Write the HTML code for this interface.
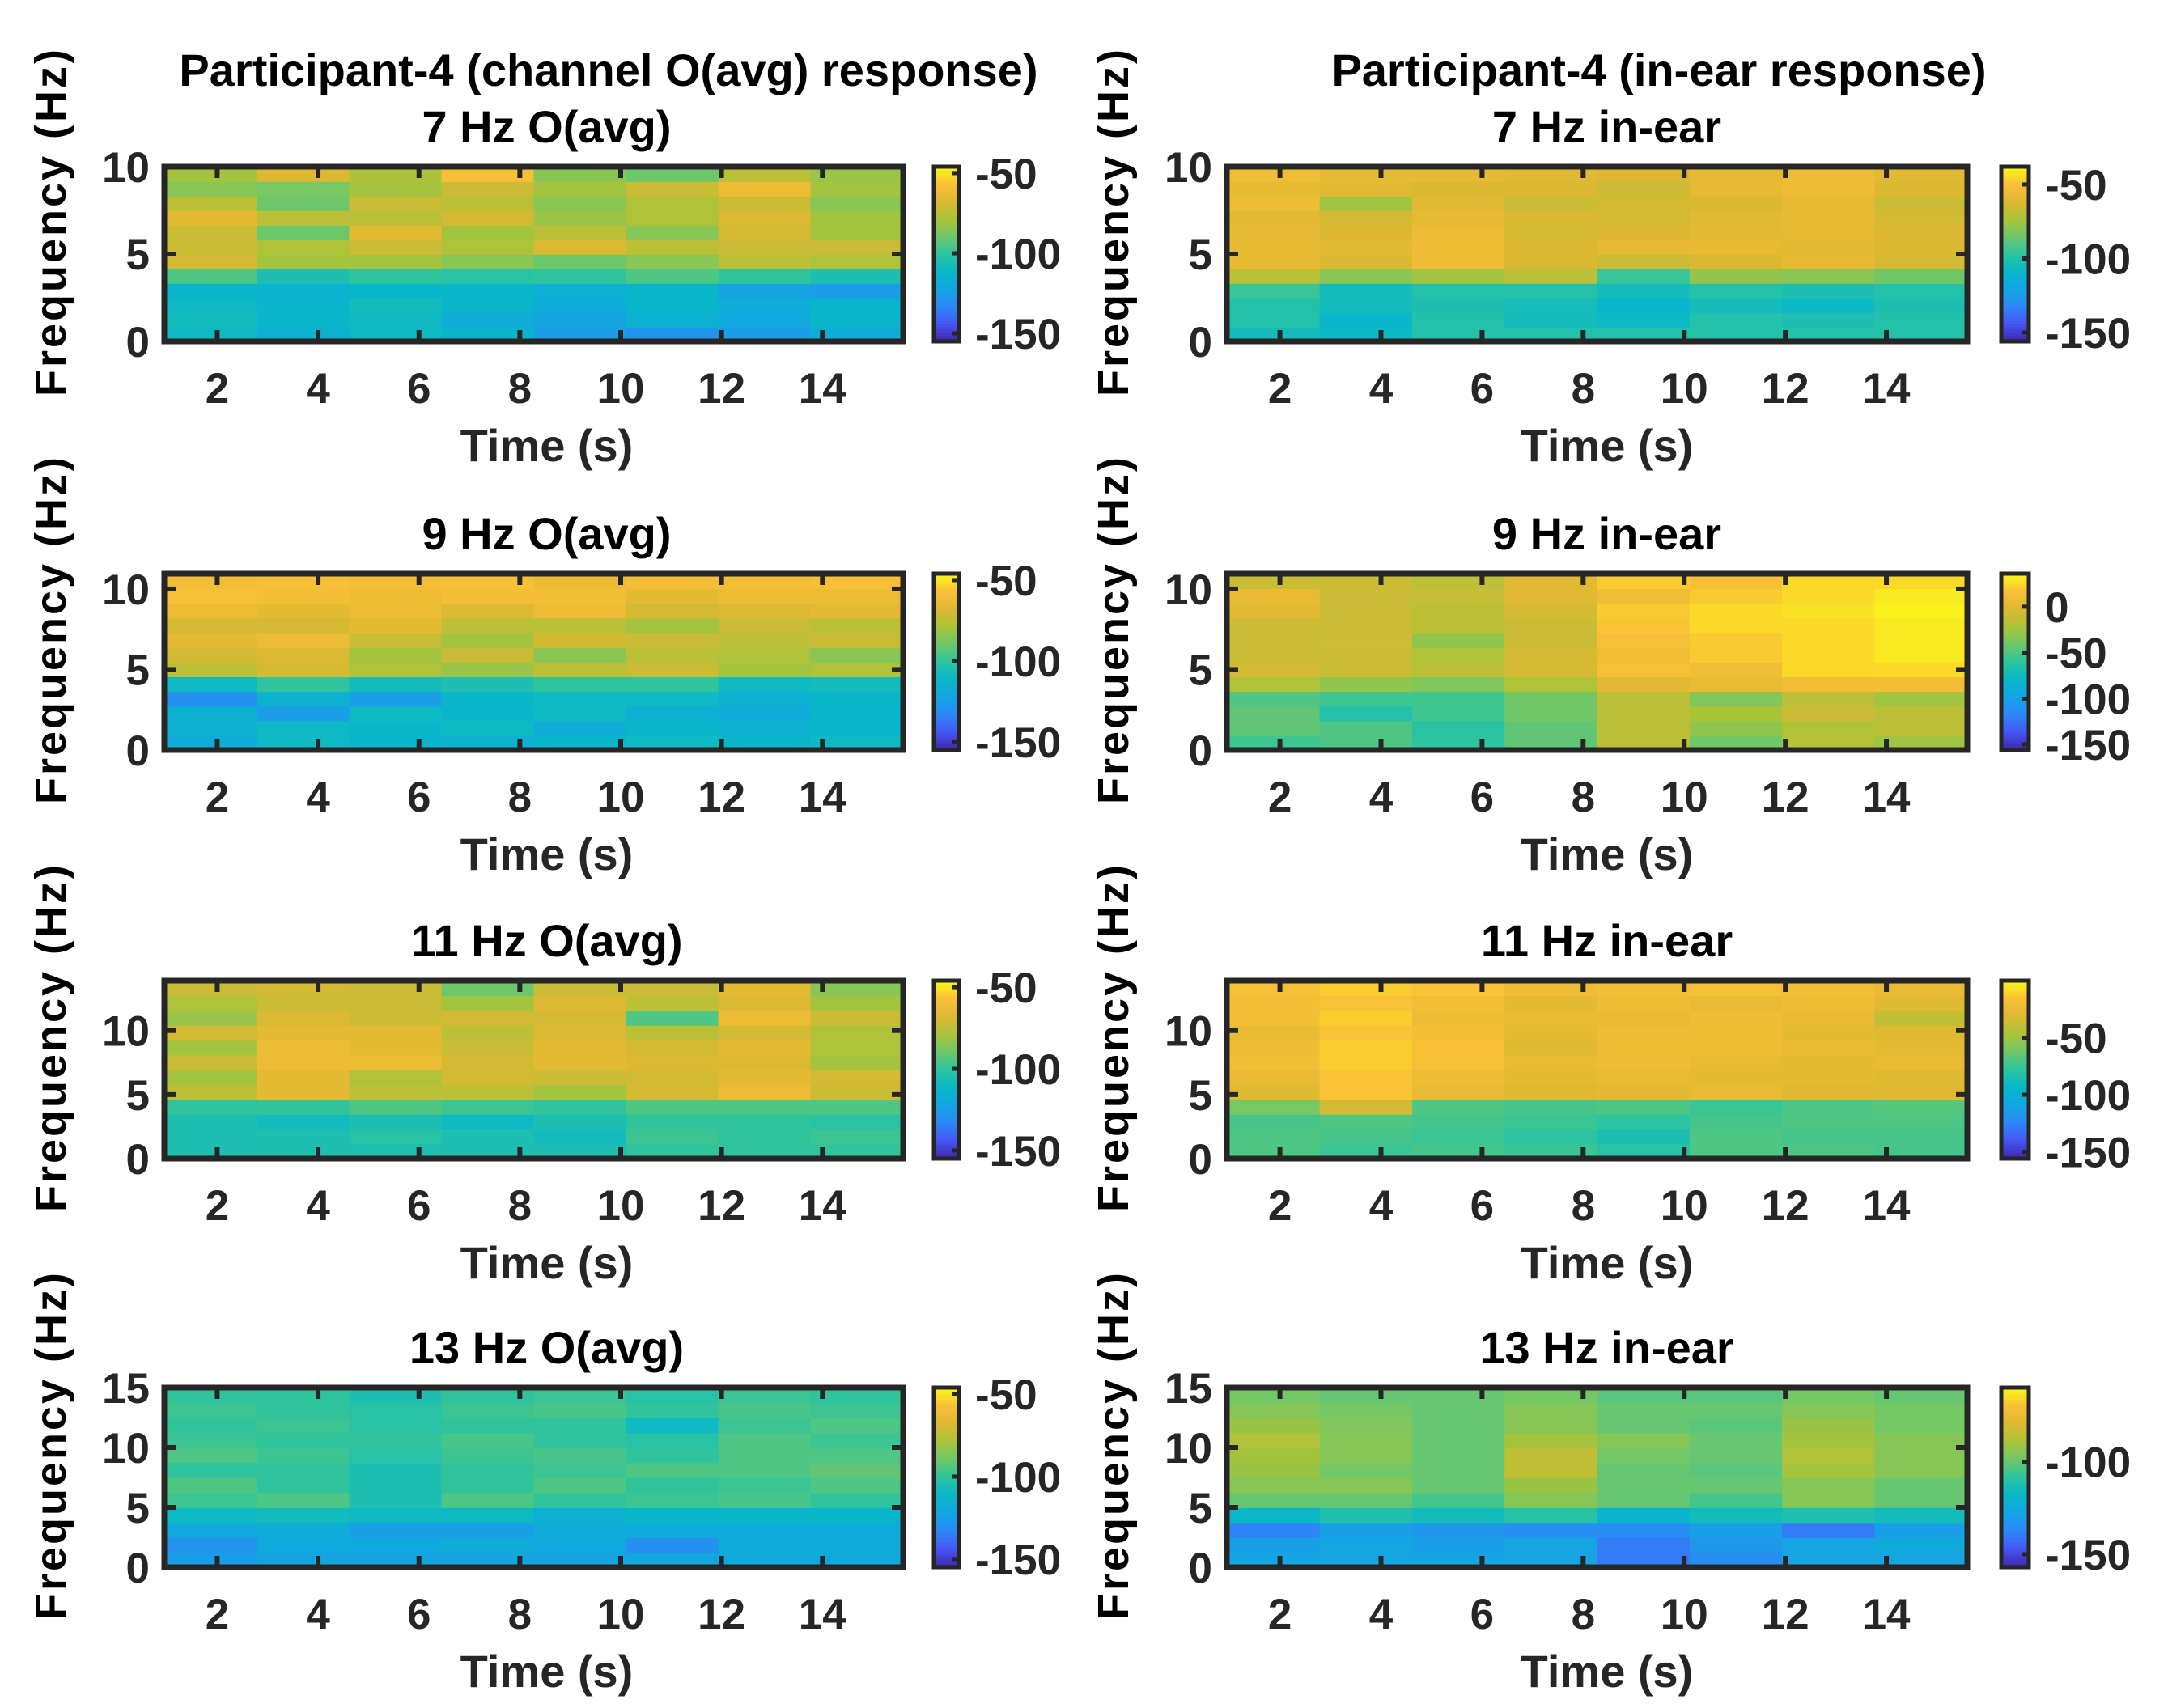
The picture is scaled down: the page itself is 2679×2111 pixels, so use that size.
<!DOCTYPE html>
<html><head><meta charset="utf-8"><style>
html,body{margin:0;padding:0;background:#fff}
svg{display:block}
text{font-family:"Liberation Sans",Arial,sans-serif;font-weight:bold}
</style></head><body>
<svg id="fig" width="2679" height="2111" viewBox="0 0 2679 2111" xmlns="http://www.w3.org/2000/svg">
<rect width="2679" height="2111" fill="#fff"/>
<text x="752" y="106" font-size="56" text-anchor="middle" fill="#000">Participant-4 (channel O(avg) response)</text>
<text x="2050" y="106" font-size="56" text-anchor="middle" fill="#000">Participant-4 (in-ear response)</text>
</svg>
<script>
const times = [1.87,3.70,5.53,7.36,9.19,11.02,12.85,14.68];
const binWidth = 1.83;
const xTicks = [2,4,6,8,10,12,14];
const panelTitles = ["7 Hz O(avg)","7 Hz in-ear","9 Hz O(avg)","9 Hz in-ear","11 Hz O(avg)","11 Hz in-ear","13 Hz O(avg)","13 Hz in-ear"];
const fMax = [10,10,10.95,10.95,13.9,13.9,15,15];
const yTicks = [[0,5,10],[0,5,10],[0,5,10],[0,5,10],[0,5,10],[0,5,10],[0,5,10,15],[0,5,10,15]];
const cLimLow = [-155,-156,-155,-156,-155,-156,-155,-157];
const cLimHigh = [-46,-38,-46,36,-46,0,-46,-60];
const cTicks = [[-50,-100,-150],[-50,-100,-150],[-50,-100,-150],[0,-50,-100,-150],[-50,-100,-150],[-50,-100,-150],[-50,-100,-150],[-100,-150]];
const p7O = [
[-110,-115,-110,-112,-125,-128,-125,-118],[-108,-112,-110,-118,-122,-115,-120,-112],[-110,-114,-108,-112,-118,-112,-118,-112],[-112,-114,-112,-112,-116,-112,-122,-125],
[-95,-105,-100,-102,-100,-95,-100,-105],[-70,-80,-80,-85,-90,-85,-75,-78],[-72,-78,-72,-78,-68,-75,-72,-72],[-72,-90,-65,-80,-75,-85,-70,-80],
[-65,-75,-75,-70,-82,-78,-68,-80],[-75,-90,-72,-75,-85,-78,-72,-85],[-85,-88,-80,-72,-80,-72,-62,-80],[-80,-68,-78,-58,-85,-90,-75,-82]];
const p7E = [
[-105,-108,-100,-100,-100,-100,-100,-100],[-100,-110,-100,-105,-108,-100,-102,-100],[-100,-105,-102,-104,-110,-105,-108,-102],[-95,-105,-100,-100,-105,-100,-102,-100],
[-70,-80,-75,-70,-95,-78,-80,-85],[-58,-62,-55,-62,-66,-62,-58,-64],[-58,-60,-55,-62,-58,-58,-60,-62],[-58,-62,-56,-64,-62,-60,-58,-62],
[-60,-64,-58,-62,-64,-60,-58,-64],[-55,-75,-60,-66,-64,-62,-58,-66],[-58,-60,-62,-62,-66,-58,-55,-62],[-54,-58,-58,-60,-62,-58,-55,-60]];
const p9O = [
[-118,-110,-112,-115,-112,-110,-112,-110],[-115,-110,-112,-110,-118,-112,-115,-112],[-115,-125,-110,-112,-110,-115,-118,-112],[-130,-115,-125,-112,-110,-110,-115,-112],
[-110,-100,-108,-105,-100,-100,-110,-108],[-75,-70,-78,-82,-75,-72,-80,-78],[-70,-68,-80,-72,-85,-75,-78,-85],[-65,-62,-72,-80,-70,-72,-75,-72],
[-70,-70,-65,-75,-75,-80,-72,-75],[-62,-65,-62,-68,-62,-70,-68,-65],[-58,-60,-62,-60,-60,-65,-62,-62],[-60,-58,-60,-58,-62,-60,-60,-58]];
const p9E = [
[-55,-50,-60,-45,-15,-40,-18,-25],[-45,-50,-62,-45,-15,-30,-20,-15],[-45,-65,-55,-40,-15,-22,-10,-15],[-50,-55,-55,-40,-15,-35,-15,-25],
[-20,-30,-35,-20,0,5,10,12],[-5,-10,-15,-5,15,10,25,25],[-10,-10,-20,-5,10,20,25,30],[-10,-8,-30,-10,15,20,25,30],
[-10,-10,-15,-10,18,25,25,30],[0,-10,-15,-5,20,25,28,33],[5,-10,-12,0,10,20,25,30],[-10,-10,-15,0,20,15,25,25]];
const p11O = [
[-105,-105,-105,-105,-105,-100,-100,-100],[-105,-105,-102,-105,-108,-98,-100,-98],[-105,-108,-105,-110,-105,-100,-100,-102],[-100,-100,-95,-98,-100,-95,-95,-95],
[-75,-65,-75,-75,-80,-70,-62,-72],[-80,-65,-78,-70,-72,-70,-65,-70],[-72,-62,-62,-70,-65,-68,-68,-80],[-80,-62,-65,-72,-65,-70,-65,-78],
[-70,-65,-65,-75,-68,-75,-70,-78],[-82,-68,-72,-70,-70,-95,-62,-72],[-78,-72,-72,-80,-68,-75,-68,-80],[-72,-70,-72,-90,-72,-72,-65,-85]];
const p11E = [
[-70,-75,-72,-75,-80,-70,-70,-72],[-70,-72,-75,-78,-85,-70,-72,-72],[-72,-70,-72,-75,-78,-72,-70,-70],[-60,-35,-70,-72,-70,-75,-70,-68],
[-30,-15,-25,-30,-28,-25,-30,-30],[-25,-15,-22,-28,-25,-28,-28,-30],[-20,-12,-18,-25,-22,-25,-28,-25],[-22,-12,-18,-30,-22,-22,-25,-28],
[-25,-15,-20,-28,-22,-22,-28,-30],[-20,-12,-22,-25,-25,-22,-25,-40],[-20,-15,-20,-28,-22,-25,-22,-30],[-18,-12,-15,-22,-20,-18,-20,-25]];
const p13O = [
[-125,-122,-122,-122,-122,-120,-120,-120],[-128,-120,-120,-118,-120,-130,-118,-118],[-120,-118,-125,-125,-118,-118,-118,-118],[-110,-108,-110,-110,-115,-112,-112,-112],
[-98,-95,-105,-95,-100,-98,-96,-100],[-95,-100,-105,-100,-95,-100,-98,-95],[-100,-100,-105,-100,-98,-95,-95,-92],[-95,-98,-102,-98,-96,-100,-95,-95],
[-98,-100,-100,-96,-100,-102,-95,-98],[-100,-98,-102,-100,-100,-110,-98,-95],[-98,-100,-102,-98,-96,-100,-96,-98],[-100,-100,-105,-100,-98,-102,-98,-100]];
const p13E = [
[-128,-128,-128,-128,-140,-135,-128,-128],[-130,-128,-130,-128,-140,-132,-128,-125],[-138,-130,-132,-135,-135,-130,-140,-130],[-118,-112,-115,-110,-120,-115,-112,-115],
[-100,-100,-105,-95,-100,-105,-95,-100],[-95,-95,-100,-92,-100,-100,-95,-100],[-92,-98,-100,-85,-100,-102,-90,-95],[-90,-95,-100,-85,-98,-100,-88,-95],
[-88,-95,-100,-90,-95,-100,-90,-95],[-92,-96,-100,-95,-100,-102,-92,-98],[-95,-98,-100,-95,-100,-100,-95,-98],[-98,-100,-100,-98,-102,-102,-98,-100]];
const panelData = [p7O,p7E,p9O,p9E,p11O,p11E,p13O,p13E];

const NS = "http://www.w3.org/2000/svg";
const svg = document.getElementById('fig');
const parula = [[62,38,168],[70,85,245],[45,135,247],[20,165,226],[8,183,200],[45,196,160],[110,199,105],[171,196,57],[222,184,50],[250,192,55],[249,251,21]];
function cmap(t){t=Math.max(0,Math.min(1,t));const n=parula.length-1;const s=t*n;const i=Math.min(n-1,Math.floor(s));const f=s-i;
 const a=parula[i],b=parula[i+1];return `rgb(${Math.round(a[0]+(b[0]-a[0])*f)},${Math.round(a[1]+(b[1]-a[1])*f)},${Math.round(a[2]+(b[2]-a[2])*f)})`;}
function el(tag,attrs,parent){const e=document.createElementNS(NS,tag);for(const k in attrs)e.setAttribute(k,attrs[k]);(parent||svg).appendChild(e);return e;}
const colX=[[203,1116,1154,1185],[1516,2431,2473,2507]];
const textShift=[16,12];
const rowY=[[206,422],[709,927],[1212,1432],[1715,1937]];
const T0=0.95,T1=15.6;
for(let p=0;p<8;p++){
 const c=p%2,r=Math.floor(p/2);
 const [x0,x1,cb0,cb1]=colX[c];const [y0,y1]=rowY[r];
 const xs=t=>x0+(t-T0)/(T1-T0)*(x1-x0);
 const ys=f=>y1-f/fMax[p]*(y1-y0);
 const g=el('g',{});
 
 
 const data=panelData[p];const nR=data.length;const df=fMax[p]/nR;
 const lo=cLimLow[p],hi=cLimHigh[p];
 for(let i=0;i<nR;i++)for(let j=0;j<times.length;j++){
  const xa=xs(times[j]-binWidth/2),xb=xs(times[j]+binWidth/2);
  const ya=ys((i+1)*df),yb=ys(i*df);
  const cell=el('rect',{x:Math.max(x0,xa).toFixed(1),y:ya.toFixed(1),width:(Math.min(x1,xb)-Math.max(x0,xa)+0.8).toFixed(1),height:(yb-ya+0.8).toFixed(1),fill:cmap((data[i][j]-lo)/(hi-lo))},g);
  
  
 }
 for(const t of xTicks){const x=xs(t);
  el('line',{x1:x,x2:x,y1:y1,y2:y1-14,stroke:'#262626','stroke-width':6},g);
  el('line',{x1:x,x2:x,y1:y0,y2:y0+14,stroke:'#262626','stroke-width':6},g);
  const tl=el('text',{x:x,y:y1+76,'font-size':53,'text-anchor':'middle',fill:'#262626'},g);tl.textContent=t;
  
  
 }
 for(const f of yTicks[p]){const y=ys(f);
  el('line',{x1:x0,x2:x0+14,y1:y,y2:y,stroke:'#262626','stroke-width':6},g);
  el('line',{x1:x1,x2:x1-14,y1:y,y2:y,stroke:'#262626','stroke-width':6},g);
  const tl=el('text',{x:x0-18,y:y+19,'font-size':53,'text-anchor':'end',fill:'#262626'},g);tl.textContent=f;
  
  
 }
 const fr=el('rect',{x:x0,y:y0,width:x1-x0,height:y1-y0,fill:'none',stroke:'#262626','stroke-width':7},g);
 
 
 const cx=(x0+x1)/2+textShift[c];
 const ti=el('text',{x:cx,y:y0-30,'font-size':56,'text-anchor':'middle',fill:'#000'},g);ti.textContent=panelTitles[p];
 
 
 const xl=el('text',{x:cx,y:y1+148,'font-size':56,'text-anchor':'middle',fill:'#262626'},g);xl.textContent='Time (s)';
 
 
 const lx=x0-122,ly=(y0+y1)/2-40;
 const yl=el('text',{x:lx,y:ly,'font-size':54,'text-anchor':'middle',fill:'#000',transform:`rotate(-90 ${lx} ${ly})`,'letter-spacing':'3'},g);yl.textContent='Frequency (Hz)';
 
 
 const cb=el('g',{},g);
 
 
 const N=60;
 for(let k=0;k<N;k++){const ya=y0+(y1-y0)*k/N;
  el('rect',{x:cb0,y:ya.toFixed(1),width:cb1-cb0,height:((y1-y0)/N+0.8).toFixed(1),fill:cmap(1-(k+0.5)/N)},cb);}
 el('rect',{x:cb0,y:y0,width:cb1-cb0,height:y1-y0,fill:'none',stroke:'#262626','stroke-width':5},cb);
 for(const v of cTicks[p]){const y=y1-(v-lo)/(hi-lo)*(y1-y0);
  el('line',{x1:cb1,x2:cb1-8,y1:y,y2:y,stroke:'#262626','stroke-width':5},cb);
  const tl=el('text',{x:cb1+20,y:y+19,'font-size':53,fill:'#262626'},cb);tl.textContent=v;
  
  
 }
}
</script>
</body></html>
